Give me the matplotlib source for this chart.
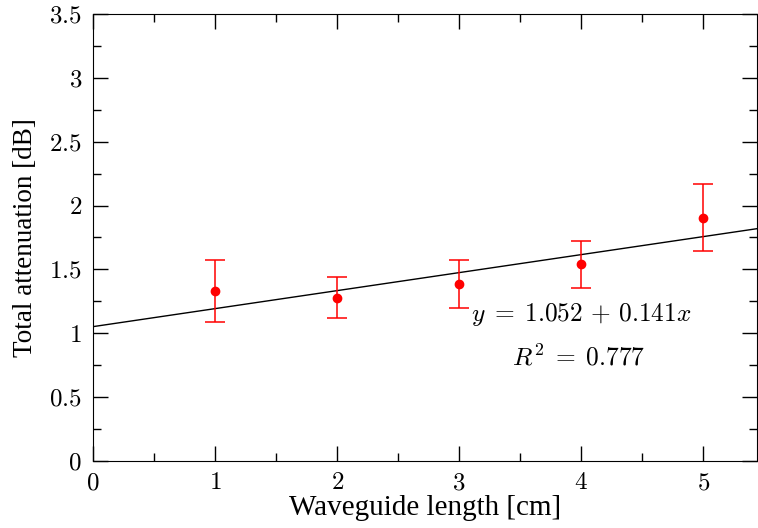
import matplotlib
matplotlib.use('Agg')
import matplotlib.pyplot as plt
import numpy as np
from matplotlib.ticker import MultipleLocator, FuncFormatter

# measured data
length = [1, 2, 3, 4, 5]
atten = [1.33, 1.28, 1.385, 1.54, 1.905]
err_hi = [1.575, 1.44, 1.575, 1.725, 2.17]
err_lo = [1.09, 1.12, 1.20, 1.355, 1.642]

# fit
fit_a = 1.052
fit_b = 0.141
r2 = 0.777

plt.rcParams['mathtext.fontset'] = 'cm'
plt.rcParams['font.family'] = 'Liberation Serif'

fig = plt.figure(figsize=(7.58, 5.28), dpi=100)
ax = fig.add_axes([0.1227, 0.1269, 0.8760, 0.8466])

yerr = [np.array(atten) - np.array(err_lo), np.array(err_hi) - np.array(atten)]
ax.errorbar(length, atten, yerr=yerr, fmt='o', color='red', ecolor='red',
            markersize=6, elinewidth=1.1, capsize=7.5, capthick=1.1, zorder=3)

xf = np.array([0, 5.5])
ax.plot(xf, fit_a + fit_b * xf, color='black', lw=1.0)

ax.text(4.0, 1.15, r'$y\;=\;%.3f\,+\,%.3fx$' % (fit_a, fit_b), fontsize=18.3,
        ha='center', va='center')
ax.text(3.98, 0.81, r'$R^2\;=\;%.3f$' % r2, fontsize=18.3, ha='center', va='center')

ax.set_xlim(0, 5.44)
ax.set_ylim(0, 3.5)
ax.xaxis.set_major_locator(MultipleLocator(1))
ax.xaxis.set_minor_locator(MultipleLocator(0.5))
ax.yaxis.set_major_locator(MultipleLocator(0.5))
ax.yaxis.set_minor_locator(MultipleLocator(0.25))
fmt = FuncFormatter(lambda v, p: r'$%g$' % v)
ax.xaxis.set_major_formatter(fmt)
ax.yaxis.set_major_formatter(fmt)
ax.tick_params(which='both', direction='in', top=True, right=True, labelsize=18)
ax.tick_params(which='major', length=11, width=1)
ax.tick_params(which='minor', length=6, width=1)
ax.tick_params(axis='x', pad=8)
ax.tick_params(axis='y', pad=8)

ax.set_xlabel('Waveguide length [cm]', fontsize=21, labelpad=1)
ax.set_ylabel('Total attenuation [dB]', fontsize=19.5, labelpad=8)

fig.savefig('out.png', dpi=100)
